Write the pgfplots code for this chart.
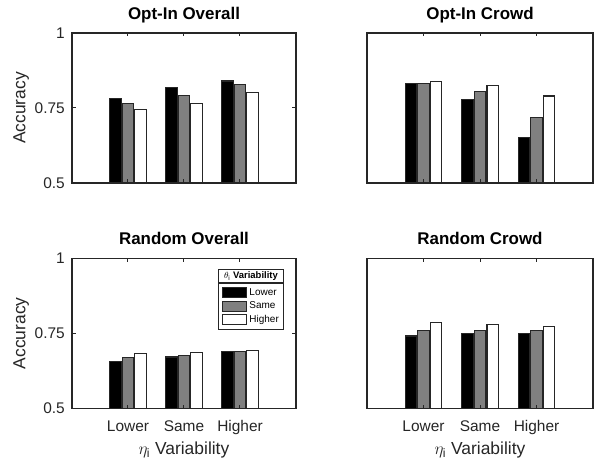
\documentclass[border=0pt]{standalone}
\usepackage{pgfplots}
\pgfplotsset{compat=1.18}
\usepackage{fontspec}
\setmainfont{Liberation Sans}
\definecolor{ax}{gray}{0.15}
\definecolor{barg}{gray}{0.5}

\pgfplotsset{
  panel/.style={
    scale only axis, width=224bp, height=150bp,
    xmin=0, xmax=4, ymin=0.5, ymax=1,
    xtick={1,2,3},
    ybar=1.3bp, bar width=0.2,
    axis on top,
    axis line style={draw=ax, line width=1.3bp},
    every tick/.style={draw=ax, line width=1bp},
    major tick length=3.5bp,
    tick align=inside,
    /pgf/number format/assume math mode=true,
    ticklabel style={font=\fontsize{15.5}{18}\selectfont, text=ax},
    title style={font=\bfseries\fontsize{17}{20}\selectfont, at={(axis description cs:0.5,1.0533)}, anchor=base, inner sep=0pt},
    ylabel style={font=\fontsize{17.5}{20}\selectfont, text=ax, at={(axis description cs:-0.2076,0.5)}, anchor=base, inner sep=0pt},
    xlabel style={font=\fontsize{17.5}{20}\selectfont, text=ax, at={(axis description cs:0.5,-0.3067)}, anchor=base, inner sep=0pt},
    yticklabel style={anchor=east, inner sep=0pt, xshift=-7bp},
    xticklabel style={anchor=base, inner sep=0pt, yshift=-23.4bp},
    legend image code/.code={\draw[#1] (0bp,-5bp) rectangle (24bp,5bp);},
  },
  leftp/.style={ytick={0.5,0.75,1}, yticklabels={0.5,0.75,1}, ylabel={Accuracy}},
  rightp/.style={ytick={0.5,0.75,1}, yticklabels={,,}, major tick length=0pt, width=226bp},
  topp/.style={xticklabels={,,}},
  botp/.style={xticklabels={Lower,Same,Higher}, xlabel={$\eta_{\mathrm{i}}$ Variability}},
  b1/.style={fill=black, draw=ax, line width=1.1bp},
  b2/.style={fill=barg, draw=ax, line width=1.1bp},
  b3/.style={fill=white, draw=ax, line width=1.1bp},
}

\begin{document}
\begin{tikzpicture}
\useasboundingbox (0,0) rectangle (595bp,461bp);

% Opt-In Overall
\begin{axis}[panel, leftp, topp, at={(72bp,278bp)}, anchor=south west, title={Opt-In Overall}]
\addplot[b1] coordinates {(1,0.782) (2,0.817) (3,0.840)};
\addplot[b2] coordinates {(1,0.764) (2,0.793) (3,0.829)};
\addplot[b3] coordinates {(1,0.744) (2,0.764) (3,0.803)};
\end{axis}

% Opt-In Crowd
\begin{axis}[panel, rightp, topp, at={(367bp,278bp)}, anchor=south west, title={Opt-In Crowd},
  extra x ticks={1,2,3}, extra x tick labels={,,}, extra x tick style={major tick length=3.5bp}]
\addplot[b1] coordinates {(1,0.831) (2,0.779) (3,0.652)};
\addplot[b2] coordinates {(1,0.833) (2,0.806) (3,0.718)};
\addplot[b3] coordinates {(1,0.837) (2,0.826) (3,0.790)};
\end{axis}

% Random Overall
\begin{axis}[panel, leftp, botp, at={(72bp,52.7bp)}, anchor=south west, title={Random Overall},
  legend cell align=left,
  legend style={draw=ax, line width=1bp, fill=white, at={(axis description cs:0.9464,0.8373)}, anchor=north east,
    inner xsep=3.5bp, inner ysep=3bp, row sep=0pt, column sep=2bp, font=\fontsize{10}{12}\selectfont,
    nodes={inner sep=0.5bp, minimum height=13.3bp, text width=30bp, text=black}}]
\addplot[b1] coordinates {(1,0.655) (2,0.671) (3,0.689)};
\addplot[b2] coordinates {(1,0.669) (2,0.675) (3,0.689)};
\addplot[b3] coordinates {(1,0.683) (2,0.686) (3,0.694)};
\legend{Lower,Same,Higher}
\node[draw=ax, line width=1bp, fill=white, minimum width=65bp, minimum height=12.7bp, inner sep=0pt, anchor=south east,
  font=\bfseries\fontsize{9.5}{11}\selectfont] at (axis description cs:0.9464,0.8373) {$\theta_{\mathrm{i}}$ Variability};
\end{axis}

% Random Crowd
\begin{axis}[panel, rightp, botp, at={(367bp,52.7bp)}, anchor=south west, title={Random Crowd},
  extra x ticks={1,2,3}, extra x tick labels={,,}, extra x tick style={major tick length=3.5bp}]
\addplot[b1] coordinates {(1,0.741) (2,0.749) (3,0.750)};
\addplot[b2] coordinates {(1,0.758) (2,0.758) (3,0.758)};
\addplot[b3] coordinates {(1,0.787) (2,0.780) (3,0.774)};
\end{axis}
\end{tikzpicture}
\end{document}
